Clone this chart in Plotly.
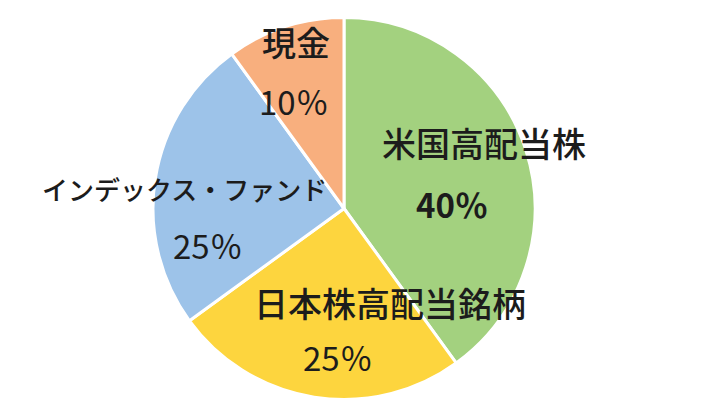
import plotly.graph_objects as go

# Portfolio allocation
labels = ["米国高配当株", "日本株高配当銘柄", "インデックス・ファンド", "現金"]
values = [40, 25, 25, 10]
pct_text = ["40％", "25％", "25％", "10％"]
colors = ["#A3D17F", "#FDD53E", "#9DC3E9", "#F8AF7E"]

W, H = 712, 406
CX, CY, R = 344, 208.5, 191

# label placement (pixel centres of the name line and the percentage line)
name_pos = [(484, 143), (390, 302), (184, 189), (296, 41)]
pct_pos = [(452, 204), (338, 357), (208, 245), (294, 101)]
name_size = [34, 34, 26, 34]
pct_bold = [True, False, False, False]

fig = go.Figure(go.Pie(
    labels=labels,
    values=values,
    sort=False,
    direction="clockwise",
    rotation=0,
    textinfo="none",
    hoverinfo="label+percent",
    marker=dict(colors=colors, line=dict(color="white", width=3)),
    domain=dict(x=[(CX - R) / W, (CX + R) / W],
                y=[1 - (CY + R) / H, 1 - (CY - R) / H]),
    showlegend=False,
))

font_family = "Noto Sans CJK JP"
for i in range(len(labels)):
    nx, ny = name_pos[i]
    px, py = pct_pos[i]
    fig.add_annotation(x=nx / W, y=1 - ny / H, xref="paper", yref="paper",
                       text=labels[i], showarrow=False,
                       xanchor="center", yanchor="middle",
                       font=dict(family=font_family, size=name_size[i],
                                 color="#1c1c1c", weight=500))
    fig.add_annotation(x=px / W, y=1 - py / H, xref="paper", yref="paper",
                       text=pct_text[i], showarrow=False,
                       xanchor="center", yanchor="middle",
                       font=dict(family=font_family, size=33, color="#1c1c1c",
                                 weight=700 if pct_bold[i] else 400))

fig.update_layout(
    width=W, height=H,
    margin=dict(l=0, r=0, t=0, b=0),
    paper_bgcolor="white",
    plot_bgcolor="white",
)

fig.write_html("out.html")
